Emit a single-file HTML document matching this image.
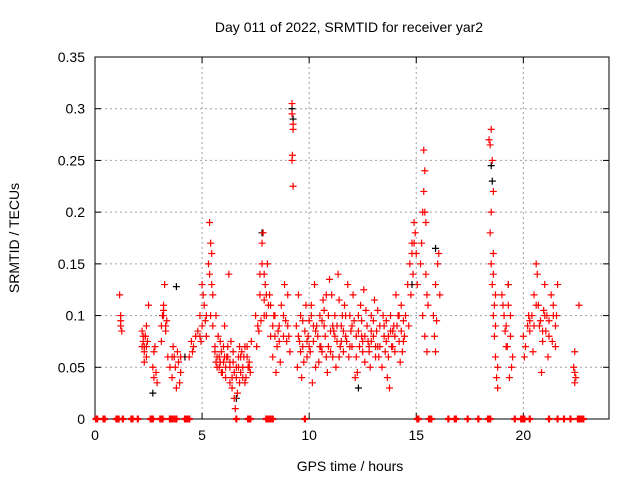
<!DOCTYPE html>
<html><head><meta charset="utf-8"><style>
body{margin:0;background:#fff}
svg{display:block;font-family:"Liberation Sans",sans-serif}
</style></head><body>
<svg id="c" width="640" height="480">
<g id="grid"></g><g id="axes"></g><g id="marks"></g>
</svg>
<script>
const xTicks=[0,5,10,15,20];
const yTicks=[0,0.05,0.1,0.15,0.2,0.25,0.3,0.35];
const yTickLabels=["0","0.05","0.1","0.15","0.2","0.25","0.3","0.35"];
const blackHours=[9.2,2.7,3.8,7.8,18.5,18.55,19.3,15.9,12.3,4.2,9.25,6.6,14.8];
const blackValues=[0.3,0.025,0.128,0.18,0.245,0.23,0.13,0.165,0.03,0.06,0.29,0.02,0.13];
const redHours=[1.15,1.2,1.2,1.25,1.2,
2.2,2.25,2.3,2.3,2.35,2.4,2.4,2.45,2.5,2.3,2.2,2.35,
2.7,2.75,2.8,2.85,2.9,2.75,
3.1,3.15,3.2,3.25,3.3,3.35,3.2,3.1,3.4,
3.5,3.6,3.7,3.8,3.9,4.0,3.65,3.85,3.95,3.75,
4.4,4.5,4.6,4.7,4.55,
4.8,4.9,5.0,5.05,5.1,4.95,5.15,5.2,5.0,
5.3,5.35,5.4,5.45,5.5,5.35,5.4,5.5,5.45,
5.6,5.7,5.8,5.9,6.0,6.1,6.2,6.3,6.4,6.5,6.55,6.6,6.7,6.8,6.9,7.0,7.1,7.2,7.3,5.75,5.95,6.15,6.35,6.45,6.65,6.85,7.05,7.25,5.65,6.05,6.25,6.75,6.95,7.15,5.85,6.3,6.6,7.0,
7.5,7.6,7.7,7.8,7.85,7.9,7.95,8.0,8.1,8.2,7.55,7.65,8.05,7.75,8.15,7.9,
8.3,8.4,8.5,8.6,8.7,8.8,8.9,9.0,9.05,8.45,8.65,8.85,8.35,8.55,8.95,9.1,
9.2,9.2,9.25,9.25,9.2,9.22,9.25,
9.4,9.5,9.6,9.7,9.8,9.9,10.0,10.1,10.2,10.3,10.4,10.5,10.6,10.7,10.8,10.9,11.0,11.1,11.2,11.3,11.4,11.5,11.6,11.7,11.8,11.9,12.0,12.1,12.2,12.3,12.4,12.5,12.6,12.7,12.8,12.9,13.0,13.1,13.2,13.3,13.4,13.5,13.6,13.7,13.8,13.9,14.0,14.1,14.2,14.3,14.4,
9.45,9.65,9.85,10.05,10.25,10.45,10.65,10.85,11.05,11.25,11.45,11.65,11.85,12.05,12.25,12.45,12.65,12.85,13.05,13.25,13.45,13.65,13.85,14.05,14.25,14.45,
9.55,9.95,10.35,10.75,11.15,11.55,11.95,12.35,12.75,13.15,13.55,13.95,14.35,10.15,12.15,13.75,10.95,12.55,11.35,
14.5,14.6,14.7,14.8,14.9,14.95,15.0,14.75,14.85,14.65,15.05,
15.2,15.3,15.35,15.4,15.45,15.5,15.3,15.4,15.5,15.25,15.45,15.55,
15.8,15.9,16.0,16.05,15.85,15.95,16.1,15.9,
18.4,18.5,18.55,18.6,18.45,18.5,18.55,18.6,18.65,18.7,18.75,18.8,18.7,18.65,18.6,18.8,18.5,18.45,
19.0,19.1,19.2,19.3,19.4,19.5,19.35,19.45,19.25,19.15,19.05,19.4,
20.0,20.1,20.2,20.3,20.4,20.5,20.6,20.65,20.7,20.8,20.9,21.0,21.1,21.2,21.3,21.4,21.5,21.6,20.45,20.75,20.95,21.15,21.35,21.55,20.05,20.25,20.85,21.05,
22.35,22.4,22.4,22.45,22.4,22.6];
const redValues=[0.12,0.1,0.09,0.085,0.095,
0.085,0.075,0.07,0.065,0.08,0.09,0.06,0.075,0.11,0.055,0.07,0.08,
0.05,0.04,0.07,0.045,0.035,0.065,
0.09,0.1,0.11,0.13,0.085,0.095,0.105,0.075,0.06,
0.05,0.04,0.06,0.03,0.055,0.045,0.07,0.065,0.035,0.05,
0.06,0.075,0.07,0.08,0.065,
0.085,0.1,0.09,0.12,0.11,0.075,0.095,0.08,0.13,
0.15,0.19,0.17,0.16,0.12,0.14,0.1,0.09,0.13,
0.07,0.06,0.05,0.065,0.055,0.04,0.07,0.05,0.03,0.02,0.01,0.04,0.06,0.045,0.05,0.035,0.06,0.055,0.075,0.08,0.045,0.06,0.075,0.055,0.025,0.065,0.04,0.045,0.1,0.09,0.14,0.07,0.06,0.05,0.055,0.035,0.05,0.07,
0.1,0.09,0.12,0.17,0.18,0.14,0.13,0.1,0.11,0.08,0.07,0.085,0.15,0.095,0.12,0.115,
0.06,0.08,0.07,0.09,0.11,0.1,0.095,0.12,0.08,0.045,0.055,0.13,0.1,0.085,0.075,0.065,
0.305,0.295,0.285,0.28,0.25,0.255,0.225,
0.09,0.12,0.1,0.07,0.085,0.06,0.095,0.11,0.075,0.05,0.08,0.1,0.065,0.09,0.12,0.07,0.085,0.06,0.1,0.075,0.115,0.09,0.065,0.08,0.13,0.1,0.07,0.095,0.06,0.085,0.11,0.075,0.055,0.09,0.065,0.1,0.08,0.06,0.105,0.07,0.05,0.09,0.075,0.06,0.1,0.085,0.065,0.09,0.075,0.11,0.095,
0.05,0.04,0.11,0.065,0.13,0.055,0.115,0.045,0.12,0.05,0.07,0.11,0.06,0.12,0.045,0.08,0.105,0.05,0.115,0.06,0.1,0.04,0.07,0.12,0.055,0.08,
0.075,0.08,0.09,0.08,0.085,0.1,0.085,0.07,0.075,0.085,0.065,0.09,0.065,0.035,0.04,0.03,0.135,0.125,0.14,
0.1,0.13,0.15,0.17,0.19,0.18,0.16,0.12,0.14,0.09,0.13,
0.15,0.2,0.26,0.24,0.19,0.12,0.1,0.08,0.065,0.17,0.14,0.11,
0.1,0.13,0.15,0.16,0.08,0.095,0.12,0.065,
0.27,0.28,0.25,0.22,0.18,0.15,0.13,0.1,0.08,0.06,0.04,0.03,0.09,0.11,0.14,0.05,0.2,0.265,
0.12,0.1,0.09,0.13,0.08,0.06,0.04,0.05,0.07,0.085,0.11,0.1,
0.08,0.07,0.09,0.085,0.1,0.12,0.15,0.14,0.11,0.095,0.075,0.13,0.1,0.08,0.12,0.11,0.07,0.13,0.065,0.09,0.105,0.06,0.075,0.1,0.06,0.1,0.045,0.085,
0.05,0.045,0.065,0.04,0.035,0.11];
const extraHours=[2.25,2.4,3.2,3.3,5.6,5.7,5.8,5.9,6.0,6.1,6.2,6.3,6.4,6.5,6.7,6.8,6.9,7.1,7.2,5.65,5.85,6.05,6.45,6.75,
7.7,7.8,7.9,8.0,8.4,8.6,8.8,9.0,
9.5,9.6,9.7,9.9,10.0,10.2,10.3,10.5,10.6,10.8,10.9,11.0,11.2,11.3,11.5,11.6,11.7,11.9,12.0,12.2,12.3,12.5,12.6,12.8,12.9,13.0,13.2,13.3,13.5,13.6,13.8,13.9,14.0,14.2,14.3,14.4,
9.75,10.1,10.55,11.1,11.75,12.45,13.1,13.7,14.15,10.7,11.4,12.9,
14.8,14.9,15.35,15.4,18.6,18.7,19.2,19.3,20.3,20.5,20.6,20.9,21.0,21.2,21.4,21.5,
8.2,8.3,4.9,5.2,3.6,4.0];
const extraValues=[0.08,0.07,0.1,0.09,0.065,0.05,0.06,0.045,0.07,0.05,0.06,0.055,0.04,0.045,0.05,0.06,0.04,0.07,0.05,0.055,0.075,0.06,0.065,0.035,
0.14,0.15,0.1,0.12,0.1,0.075,0.08,0.09,
0.08,0.065,0.095,0.075,0.07,0.09,0.085,0.07,0.095,0.06,0.1,0.065,0.08,0.09,0.075,0.085,0.1,0.07,0.09,0.08,0.1,0.065,0.08,0.07,0.085,0.095,0.07,0.09,0.08,0.095,0.085,0.07,0.08,0.1,0.085,0.075,
0.055,0.1,0.07,0.09,0.075,0.095,0.07,0.08,0.1,0.105,0.06,0.075,
0.16,0.17,0.22,0.2,0.16,0.12,0.07,0.11,0.095,0.09,0.11,0.085,0.1,0.095,0.1,0.09,
0.11,0.09,0.08,0.1,0.06,0.06];
const zeroHours=[0.05,0.1,0.4,0.45,1.0,1.05,1.1,1.3,1.7,1.75,2.0,2.6,2.65,2.7,3.05,3.1,3.15,3.5,3.6,3.7,3.8,4.2,4.3,4.4,6.6,7.15,7.2,7.25,8.0,8.1,8.2,8.3,9.8,15.05,15.1,15.6,15.7,16.5,16.8,16.85,17.4,17.9,18.35,18.4,18.45,19.6,19.9,19.95,20.0,20.05,20.3,21.2,21.6,21.9,22.2,22.55,22.6,22.7,22.8];

const ns="http://www.w3.org/2000/svg";
const L=95,R=609,T=57,B=419,XMAX=24,YMAX=0.35;
const xs=h=>L+h/XMAX*(R-L);
const ys=v=>B-v/YMAX*(B-T);
function mk(tag,attrs,parent){const e=document.createElementNS(ns,tag);for(const k in attrs)e.setAttribute(k,attrs[k]);parent.appendChild(e);return e;}
const grid=document.getElementById('grid'),axes=document.getElementById('axes'),marks=document.getElementById('marks');

xTicks.forEach((t,i)=>{
 const x=xs(t);
 if(t>0){const g=mk('line',{x1:x,x2:x,y1:T,y2:B,stroke:'#a0a0a0','stroke-dasharray':'2,3'},grid);
 
 }
 mk('line',{x1:x,x2:x,y1:B,y2:B-6,stroke:'#000'},axes);
 mk('line',{x1:x,x2:x,y1:T,y2:T+6,stroke:'#000'},axes);
 const tx=mk('text',{x:x,y:B+21,'text-anchor':'middle','font-size':14},axes);
 tx.textContent=String(t);
 
 
});
yTicks.forEach((t,i)=>{
 const y=ys(t);
 if(t>0&&t<YMAX){const g=mk('line',{x1:L,x2:R,y1:y,y2:y,stroke:'#a0a0a0','stroke-dasharray':'2,3'},grid);
 
 }
 mk('line',{x1:L,x2:L+6,y1:y,y2:y,stroke:'#000'},axes);
 mk('line',{x1:R,x2:R-6,y1:y,y2:y,stroke:'#000'},axes);
 const tx=mk('text',{x:L-10,y:y+5,'text-anchor':'end','font-size':14},axes);
 tx.textContent=yTickLabels[i];
 
 
});
const frame=mk('rect',{x:L,y:T,width:R-L,height:B-T,fill:'none',stroke:'#000'},axes);


const title=mk('text',{x:349,y:32,'text-anchor':'middle','font-size':14},axes);
title.textContent='Day 011 of 2022, SRMTID for receiver yar2';


const xt=mk('text',{x:350,y:471,'text-anchor':'middle','font-size':14},axes);
xt.textContent='GPS time / hours';


const yt=mk('text',{x:0,y:0,'text-anchor':'middle','font-size':14,transform:'translate(19,238) rotate(-90)'},axes);
yt.textContent='SRMTID / TECUs';



function plus(h,v,color,name,w){
 const x=xs(h),y=ys(v);
 const p=mk('path',{d:`M${x-3.5},${y}H${x+3.5}M${x},${y-3.5}V${y+3.5}`,stroke:color,'stroke-width':w||1.2,fill:'none'},marks);
 
 
}
blackHours.forEach((h,i)=>plus(h,blackValues[i],'#000','black-point'));
redHours.forEach((h,i)=>plus(h,redValues[i],'#f00','red-point'));
extraHours.forEach((h,i)=>plus(h,extraValues[i],'#f00','red-point'));
zeroHours.forEach(h=>plus(h,0,'#f00','zero-point',2.2));
</script>
</body></html>
